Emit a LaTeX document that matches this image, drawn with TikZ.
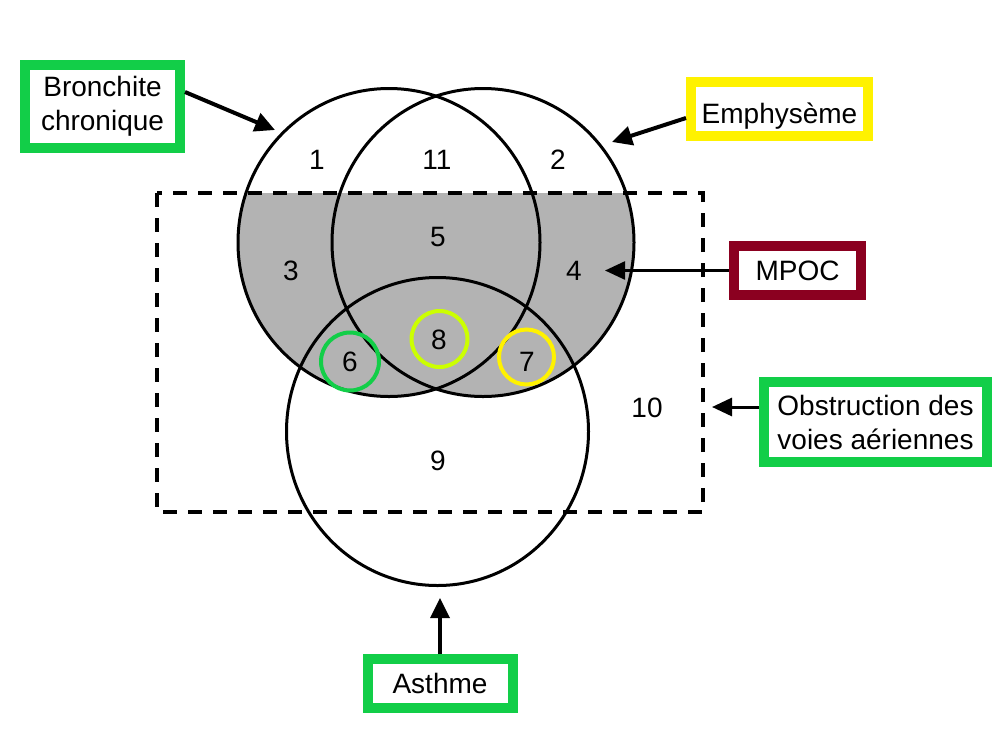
\documentclass[tikz,border=0pt]{standalone}
\usepackage{fontspec}
\setmainfont{Liberation Sans}
\usetikzlibrary{arrows.meta}
\definecolor{boxgreen}{RGB}{18,206,72}
\definecolor{boxyellow}{RGB}{255,242,0}
\definecolor{boxred}{RGB}{139,0,32}
\definecolor{limegreen}{RGB}{204,255,0}
\definecolor{fillgray}{RGB}{179,179,179}
\begin{document}
\begin{tikzpicture}[x=1pt,y=-1pt,
  font=\fontsize{28}{34}\selectfont,
  labelbox/.style={line width=10pt, align=center, inner sep=0pt, fill=white, text=black},
  setline/.style={line width=3pt},
  num/.style={inner sep=0pt},
  arr/.style={-{Triangle[length=20pt,width=19pt]}, line width=4pt},
  thinarr/.style={-{Triangle[length=20pt,width=18pt]}, line width=3pt}]
\useasboundingbox (0,0) rectangle (996,740);
% gray region
\begin{scope}
  \clip (157,193) rectangle (703,512);
  \fill[fillgray] (389,242.5) ellipse [x radius=151pt, y radius=154pt];
  \fill[fillgray] (483,242.5) ellipse [x radius=151pt, y radius=154pt];
\end{scope}
% main sets
\draw[setline] (389,242.5) ellipse [x radius=151pt, y radius=154pt];
\draw[setline] (483,242.5) ellipse [x radius=151pt, y radius=154pt];
\draw[setline] (437.5,431.5) ellipse [x radius=151pt, y radius=154pt];
\draw[line width=3.5pt, dash pattern=on 14pt off 11pt] (157,193) rectangle (703,512);
% small circles
\draw[boxgreen, line width=4pt] (350,361.5) circle [radius=29pt];
\draw[limegreen, line width=4pt] (439.5,339) circle [radius=28pt];
\draw[boxyellow, line width=4pt] (526.5,357) circle [radius=27.5pt];
% numbers
\node[num] (n1) at (317,160) {1};
\node[num] (n11) at (437,160) {11};
\node[num] (n2) at (558,160) {2};
\node[num] (n5) at (438,237) {5};
\node[num] (n3) at (291,271) {3};
\node[num] (n4) at (574,271) {4};
\node[num] (n8) at (439,340) {8};
\node[num] (n6) at (350,362) {6};
\node[num] (n7) at (527,362) {7};
\node[num] (n10) at (647,408) {10};
\node[num] (n9) at (438,461) {9};
% arrow targets
\coordinate (bcTip) at (275,130);
\coordinate (emTip) at (612,142);
\coordinate (mpTip) at (605,270.5);
\coordinate (obTip) at (712,407);
\coordinate (asTip) at (440,598);
% label boxes
\node[labelbox, draw=boxgreen, minimum width=155pt, minimum height=83pt] (bc) at (102.5,106.5) {Bronchite\\chronique};
\node[labelbox, draw=boxyellow, minimum width=177pt, minimum height=54pt, text height=28pt, text depth=0pt] (em) at (779.5,109) {Emphysème};
\node[labelbox, draw=boxred, minimum width=127pt, minimum height=49pt] (mp) at (797.5,270.5) {MPOC};
\node[labelbox, draw=boxgreen, minimum width=223pt, minimum height=80pt] (ob) at (875.5,422) {Obstruction des\\voies aériennes};
\node[labelbox, draw=boxgreen, minimum width=145pt, minimum height=49pt] (as) at (440,683.5) {Asthme};
% connectors
\draw[arr] ([yshift=14.5pt]bc.east) -- (bcTip);
\draw[arr] ([yshift=-9pt]em.west) -- (emTip);
\draw[thinarr, line width=2.5pt] (mp.west) -- (mpTip);
\draw[thinarr] ([yshift=15pt]ob.west) -- (obTip);
\draw[arr, line width=3.5pt] (as.north) -- (asTip);
\end{tikzpicture}
\end{document}
